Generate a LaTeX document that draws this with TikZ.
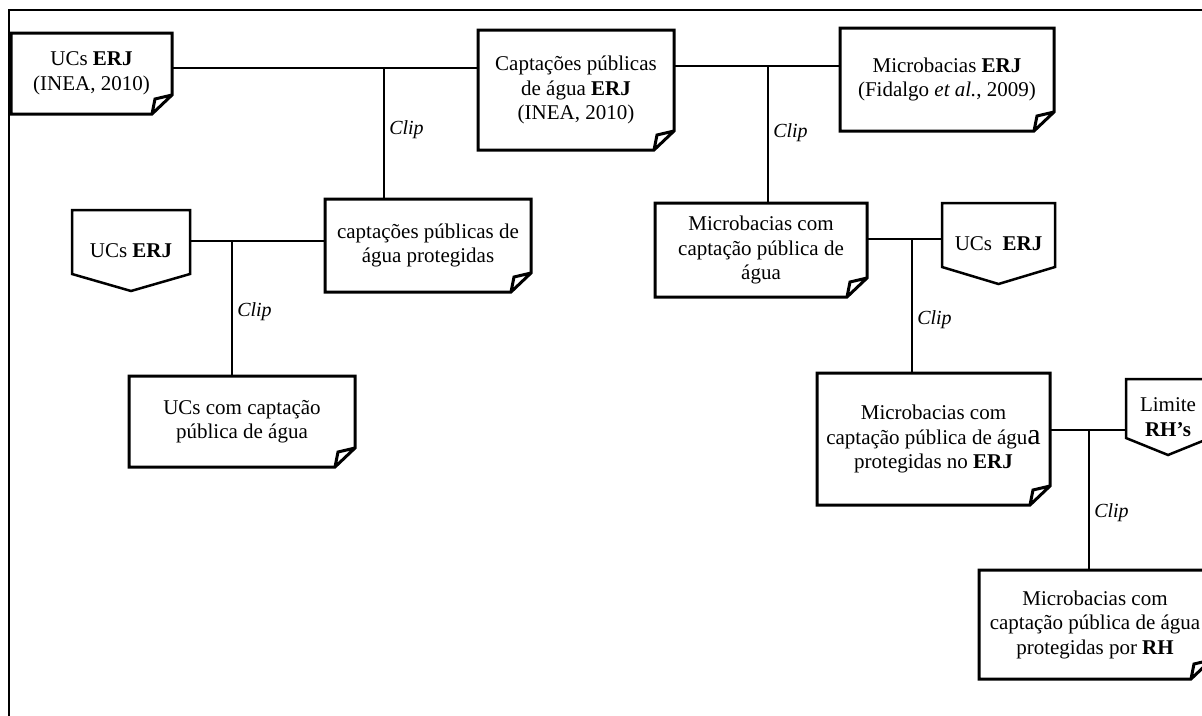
\documentclass[tikz,border=0pt]{standalone}
\usepackage{fontspec}
\setmainfont{Liberation Serif}
\usepackage{tikz}
\tikzstyle{doc} = [inner sep=0pt, outer sep=0pt, align=center, font=\fontsize{21}{24.5}\selectfont]
\tikzstyle{docline} = [line width=3pt, line join=miter]
\tikzstyle{penline} = [line width=2.5pt]
\tikzstyle{conn} = [line width=2.5pt]
\tikzstyle{cliplbl} = [right, inner sep=4pt, font=\fontsize{20}{24}\selectfont\itshape]
\tikzstyle{frame} = [line width=2pt]

\begin{document}
\begin{tikzpicture}[x=1pt, y=-1pt]
    \useasboundingbox (0,0) rectangle (1202,715);
    \clip (0,0) rectangle (1202,715);
    \draw[frame] (9,10) rectangle (1215,725);

    % top row
    \node[doc, minimum width=161pt, minimum height=81pt] (ucs) at (91.5,73.5) {UCs \textbf{ERJ}\\(INEA, 2010)};
    \node[doc, minimum width=196pt, minimum height=120pt] (capt) at (576,90) {Captações públicas\\de água \textbf{ERJ}\\(INEA, 2010)};
    \node[doc, minimum width=214pt, minimum height=103pt] (micro) at (947,79.5) {Microbacias \textbf{ERJ}\\(Fidalgo \textit{et al.}, 2009)};

    % second row
    \node[doc, minimum width=118pt, minimum height=81pt] (ucsl) at (131,250.5) {UCs \textbf{ERJ}};
    \node[doc, minimum width=206pt, minimum height=93pt] (captprot) at (428,245.5) {captações públicas de\\água protegidas};
    \node[doc, minimum width=212pt, minimum height=94pt] (microcapt) at (761,250) {Microbacias com\\captação pública de\\água};
    \node[doc, minimum width=113pt, minimum height=81pt] (ucsr) at (998.5,243.5) {UCs\ \ \textbf{ERJ}};

    % lower rows
    \node[doc, minimum width=226pt, minimum height=91pt] (ucscapt) at (242,421.5) {UCs com captação\\pública de água};
    \node[doc, minimum width=233pt, minimum height=132pt] (microprot) at (933.5,439) {Microbacias com\\captação pública de águ{\fontsize{30}{30}\selectfont a}\\protegidas no \textbf{ERJ}};
    \node[doc, minimum width=84pt, minimum height=76pt] (limite) at (1168,417) {Limite\\\textbf{RH’s}};
    \node[doc, minimum width=232pt, minimum height=109pt] (microrh) at (1095,624.5) {Microbacias com\\captação pública de água\\protegidas por \textbf{RH}};

    % folded documents
    \foreach \n in {ucs,capt,micro,captprot,ucscapt,microcapt,microprot,microrh}
        \draw[docline] (\n.north west) -- (\n.north east) -- ([yshift=19pt]\n.south east)
            -- ([xshift=-20pt]\n.south east) -- (\n.south west) -- cycle
            ([yshift=19pt]\n.south east) -- ([xshift=-17pt,yshift=15pt]\n.south east) -- ([xshift=-20pt]\n.south east);

    % off-page layers
    \foreach \n in {ucsl,ucsr,limite}
        \draw[penline] (\n.north west) -- (\n.north east) -- ([yshift=17pt]\n.south east)
            -- (\n.south) -- ([yshift=17pt]\n.south west) -- cycle;

    % clip operations
    \coordinate (j1) at (384,68);
    \coordinate (j2) at (768,66);
    \coordinate (j3) at (232,241);
    \coordinate (j4) at (912,239);
    \coordinate (j5) at (1089,430);

    \draw[conn] (ucs.east |- j1) -- (capt.west |- j1);
    \draw[conn] (j1) -- node[cliplbl, pos=0.47] {Clip} (captprot.north -| j1);

    \draw[conn] (capt.east |- j2) -- (micro.west |- j2);
    \draw[conn] (j2) -- node[cliplbl, pos=0.49] {Clip} (microcapt.north -| j2);

    \draw[conn] (ucsl.east |- j3) -- (captprot.west |- j3);
    \draw[conn] (j3) -- node[cliplbl, pos=0.52] {Clip} (ucscapt.north -| j3);

    \draw[conn] (microcapt.east |- j4) -- (ucsr.west |- j4);
    \draw[conn] (j4) -- node[cliplbl, pos=0.6] {Clip} (microprot.north -| j4);

    \draw[conn] (microprot.east |- j5) -- (limite.west |- j5);
    \draw[conn] (j5) -- node[cliplbl, pos=0.59] {Clip} (microrh.north -| j5);
\end{tikzpicture}
\end{document}
